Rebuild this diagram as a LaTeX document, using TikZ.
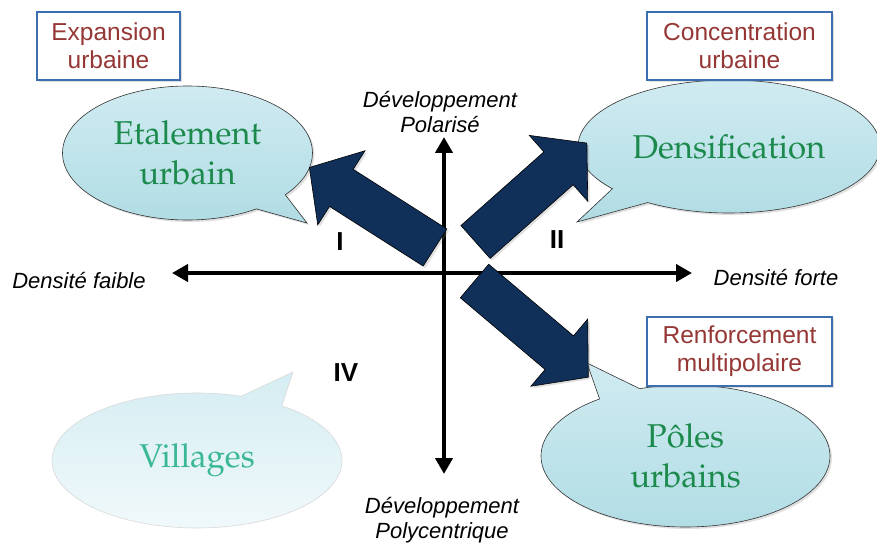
\documentclass[tikz,border=0pt]{standalone}
\usepackage[T1]{fontenc}
\usepackage{fontspec}
\setsansfont{Liberation Sans}
\usetikzlibrary{shapes.callouts,shadows,arrows.meta}
\definecolor{rougecadre}{HTML}{953735}
\definecolor{bleucadre}{HTML}{3B6FB0}
\definecolor{vertbulle}{HTML}{1B8A4C}
\definecolor{vertvillage}{HTML}{3AB795}
\definecolor{marine}{HTML}{10305A}
\definecolor{bullehaut}{HTML}{D0EBF1}
\definecolor{bullebas}{HTML}{B0DCE4}
\newcommand{\palfont}{\fontencoding{T1}\fontfamily{ppl}\selectfont}
\newcommand{\fleche}[2]{ \begin{scope}[shift={#1},rotate=#2] \draw[grossefleche] (0,-22) -- (111,-22) -- (111,-44) -- (149,0) -- (111,44) -- (111,22) -- (0,22) -- cycle; \end{scope}}
\tikzset{
  ombre/.style={drop shadow={opacity=0.25,shadow xshift=2pt,shadow yshift=-2pt}},
  cadre/.style={draw=bleucadre, line width=1.8pt, fill=white, text=rougecadre, font=\sffamily\fontsize{24.5}{28}\selectfont, align=center, inner sep=0pt, ombre},
  bulle/.style={ellipse callout, draw=black!80, line width=0.6pt, top color=bullehaut, bottom color=bullebas, text=vertbulle, font=\palfont\fontsize{33}{40}\selectfont, align=center, inner sep=0pt, callout pointer arc=18, ombre},
  villages/.style={ellipse callout, draw=black!15, line width=0.6pt, top color=bullehaut!90!white, bottom color=bullehaut!30!white, text=vertvillage, font=\palfont\fontsize{33}{40}\selectfont, align=center, inner sep=0pt, callout pointer arc=18},
  axe/.style={line width=4.5pt, {Triangle[width=17pt,length=16pt]}-{Triangle[width=17pt,length=16pt]}},
  grossefleche/.style={draw=black, line width=0.6pt, fill=marine, ombre},
  legende/.style={font=\sffamily\itshape\fontsize{22}{25}\selectfont, align=center},
  chiffre/.style={font=\sffamily\bfseries\fontsize{26}{28}\selectfont}
}
\begin{document}
\begin{tikzpicture}[x=1pt,y=-1pt]
    \useasboundingbox (0,0) rectangle (877,545);
    \clip (0,0) rectangle (877,545);
    % bulles
    \node[bulle, minimum width=250pt, minimum height=134pt, callout absolute pointer={(307,223)}] (etalement) at (187.5,153) {Etalement\\urbain};
    \node[bulle, minimum width=302pt, minimum height=133pt, callout absolute pointer={(577,222)}] (densification) at (729,146.5) {Densification};
    \node[bulle, minimum width=289pt, minimum height=142pt, callout absolute pointer={(587,363)}] (poles) at (685.5,456) {Pôles\\urbains};
    \node[villages, minimum width=290pt, minimum height=135pt, callout absolute pointer={(293,372)}] (village) at (197,460.5) {Villages};
    % cadres
    \node[cadre, minimum width=143pt, minimum height=68pt] (expansion) at (108.5,46) {Expansion\\urbaine};
    \node[cadre, minimum width=185pt, minimum height=68pt] (concentration) at (739.5,46) {Concentration\\urbaine};
    \node[cadre, minimum width=185pt, minimum height=69pt] (renforcement) at (739.5,351.5) {Renforcement\\multipolaire};
    % axes
    \coordinate (gauche) at (172,273);
    \coordinate (droite) at (692,273);
    \coordinate (haut) at (444,137);
    \coordinate (bas) at (444,474);
    \draw[axe] (gauche) -- (droite);
    \draw[axe] (haut) -- (bas);
    \node[legende] (polarise) at (440,112) {Développement\\Polarisé};
    \node[legende] (polycentrique) at (442,520) {Développement\\Polycentrique};
    \node[legende] (faible) at (79,281) {Densité faible};
    \node[legende] (forte) at (776,278) {Densité forte};
    % fleches
    \fleche{(435,247.5)}{147.5}
    \fleche{(475.5,242)}{41.6}
    \fleche{(474.5,281)}{-40.2}
    % quadrants
    \node[chiffre] (q1) at (340,242) {I};
    \node[chiffre] (q2) at (557,240) {II};
    \node[chiffre] (q4) at (346,373) {IV};
\end{tikzpicture}
\end{document}
